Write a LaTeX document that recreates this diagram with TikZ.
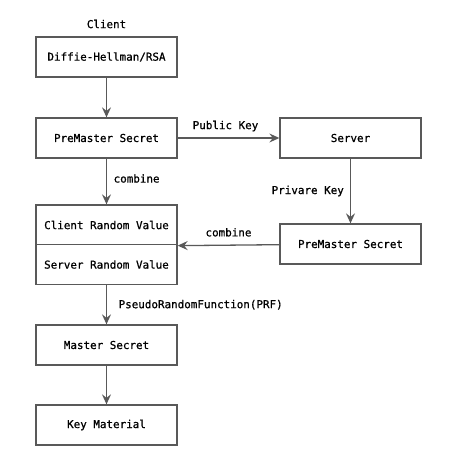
\documentclass[tikz,border=0pt]{standalone}
\usepackage{fontspec}
\setmonofont{DejaVu Sans Mono}[FakeBold=0.8]
\usetikzlibrary{arrows.meta}

\tikzset{etape/.style = {draw = black!65, line width = 1.3pt, fill = white,
                         minimum width = 141pt, minimum height = 40pt,
                         inner sep = 0pt, font = \fontsize{10.9}{13}\selectfont\ttfamily},
         lien/.style = {draw = black!65, line width = 1.3pt,
                        -{Stealth[length = 10pt, width = 9pt, inset = 3.5pt]}},
         lbl/.style = {font = \fontsize{10.9}{13}\selectfont\ttfamily, inner sep = 0pt}
        }

\begin{document}
\begin{tikzpicture}[x=1pt, y=-1pt]
\useasboundingbox (0,0) rectangle (457,469);
\node[lbl] at (106.5,24) (client) {Client};
\node[etape] at (106.5,57) (dh) {Diffie-Hellman/RSA};
\node[etape] at (106.5,138) (pms) {PreMaster Secret};
\node[etape] at (350.5,138) (srv) {Server};
\node[etape] at (350.5,244) (spms) {PreMaster Secret};
\node[etape] at (106.5,225) (crv) {Client Random Value};
\node[etape] at (106.5,264.5) (srv2) {Server Random Value};
\node[etape] at (106.5,345) (ms) {Master Secret};
\node[etape] at (106.5,425) (km) {Key Material};
\draw[lien] (dh) -- (pms);
\draw[lien] (pms) -- node[lbl, anchor = south, yshift = 6pt, xshift = -3pt] {Public Key} (srv);
\draw[lien] (pms) -- node[lbl, anchor = west, xshift = 6.5pt, yshift = 3pt] {combine} (crv);
\draw[lien] (srv) -- node[lbl, anchor = east, xshift = -6pt] {Privare Key} (spms);
\draw[lien] (spms) -- node[lbl, anchor = south, yshift = 8pt] {combine} (crv.south east);
\draw[lien] (srv2) -- node[lbl, anchor = west, xshift = 11.5pt] {PseudoRandomFunction(PRF)} (ms);
\draw[lien] (ms) -- (km);
\end{tikzpicture}
\end{document}
